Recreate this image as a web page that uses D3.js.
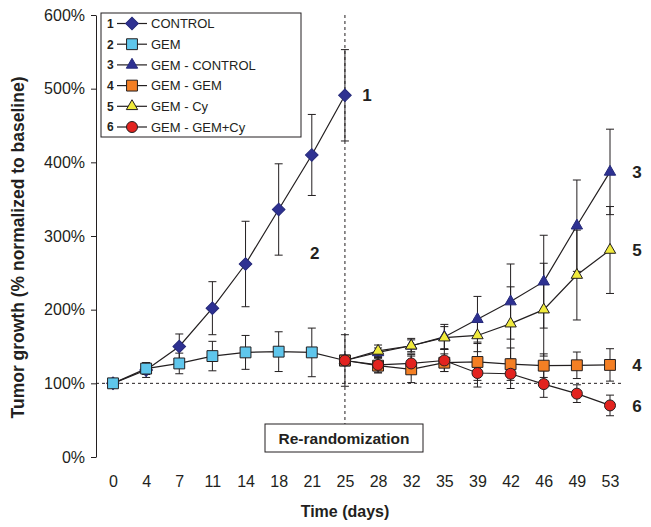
<!DOCTYPE html>
<html>
<head>
<meta charset="utf-8">
<script src="https://cdn.jsdelivr.net/npm/d3@7"></script>
<style>
    body { margin: 0; background: #fff; }
    svg { display: block; font-family: Arial, "Liberation Sans", sans-serif; }
</style>
</head>
<body>
<svg id="chart" width="651" height="527"></svg>
<script>
/*jslint browser: true */

var days = [0, 4, 7, 11, 14, 18, 21, 25, 28, 32, 35, 39, 42, 46, 49, 53];
var yTicks = [0, 100, 200, 300, 400, 500, 600];

// first phase, days 0..25
var control = [100, 118, 150, 202, 262, 336, 410, 491];
var controlErr = [0, 10, 17, 36, 58, 62, 55, 62];
var gem = [100, 120, 127, 137, 142, 143, 142, 131];
var gemErr = [0, 8, 14, 20, 23, 27, 33, 35];

// after re-randomization, days 25..53
var gemControl = [131, 142, 151, 163, 187, 211, 238, 314, 387];
var gemControlErr = [0, 6, 8, 17, 31, 51, 63, 62, 58];
var gemGem = [131, 124, 119, 128, 129, 126, 124, 124.5, 125];
var gemGemErr = [0, 10, 18, 12, 25, 22, 16, 18, 22];
var gemCy = [131, 144, 151, 162, 165, 181, 200, 247, 281];
var gemCyErr = [0, 8, 10, 15, 22, 50, 63, 61, 59];
var gemGemCy = [131, 125, 127, 131, 114, 113, 99, 86, 70];
var gemGemCyErr = [0, 10, 12, 15, 19, 20, 18, 12, 14];

var seriesNames = ["CONTROL", "GEM", "GEM - CONTROL", "GEM - GEM", "GEM - Cy", "GEM - GEM+Cy"];

(function (d3) {
    "use strict";

    var svg = d3.select("#chart"),
        ink = "#231f20",
        x = d3.scalePoint().domain(days).range([113, 610]),
        y = d3.scaleLinear().domain([0, 600]).range([457, 15]),
        early = days.slice(0, 8),
        late = days.slice(7),
        series,
        line,
        marks,
        legend;

    function zip(xs, vs, es) {
        return xs.map(function (d, i) {
            return {day: d, v: vs[i], e: es[i]};
        });
    }

    series = [
        {num: 1, pts: zip(early, control, controlErr), shape: "diamond", fill: "#2e3192", labelDx: 22},
        {num: 2, pts: zip(early, gem, gemErr), shape: "square", fill: "#5fc6ec"},
        {num: 3, pts: zip(late, gemControl, gemControlErr), shape: "triangle", fill: "#2e3192", labelDx: 27},
        {num: 4, pts: zip(late, gemGem, gemGemErr), shape: "square", fill: "#f47f24", labelDx: 27},
        {num: 5, pts: zip(late, gemCy, gemCyErr), shape: "triangle", fill: "#f0ea3c", labelDx: 27},
        {num: 6, pts: zip(late, gemGemCy, gemGemCyErr), shape: "circle", fill: "#e2231f", labelDx: 27}
    ];

    function symbolPath(shape) {
        if (shape === "diamond") {
            return d3.symbol(d3.symbolSquare, 80)();
        }
        if (shape === "square") {
            return d3.symbol(d3.symbolSquare, 118)();
        }
        if (shape === "triangle") {
            return d3.symbol(d3.symbolTriangle, 56)();
        }
        return d3.symbol(d3.symbolCircle, 95)();
    }

    function drawMark(sel, s) {
        sel.append("path")
            .attr("d", symbolPath(s.shape))
            .attr("transform", function () {
                return s.shape === "diamond" ? "rotate(45)" : null;
            })
            .attr("fill", s.fill)
            .attr("stroke", s.shape === "diamond" || s.shape === "triangle" && s.num === 3 ? "#262a7a" : ink)
            .attr("stroke-width", 1);
    }

    // baseline and re-randomization guides
    svg.append("line")
        .attr("x1", 96).attr("x2", 623)
        .attr("y1", y(100)).attr("y2", y(100))
        .attr("stroke", ink).attr("stroke-dasharray", "3,3");

    svg.append("line")
        .attr("x1", x(25)).attr("x2", x(25))
        .attr("y1", y(600)).attr("y2", 424)
        .attr("stroke", ink).attr("stroke-dasharray", "3,3");

    // y axis
    svg.append("g")
        .attr("transform", "translate(96,0)")
        .call(d3.axisLeft(y).tickValues(yTicks).tickSize(5).tickSizeOuter(0).tickPadding(6)
            .tickFormat(function (d) { return d + "%"; }))
        .call(function (g) {
            g.selectAll("text").attr("font-size", 16).attr("fill", ink).attr("font-family", null);
            g.selectAll("line,path").attr("stroke", ink);
        });

    // x labels only, no axis line
    svg.append("g")
        .attr("transform", "translate(0,457)")
        .call(d3.axisBottom(x).tickSize(0).tickPadding(19))
        .call(function (g) {
            g.select(".domain").remove();
            g.selectAll("text").attr("font-size", 16).attr("fill", ink).attr("font-family", null);
        });

    svg.append("text")
        .attr("x", 345).attr("y", 517)
        .attr("text-anchor", "middle")
        .attr("font-size", 16).attr("font-weight", "bold").attr("fill", ink)
        .text("Time (days)");

    svg.append("text")
        .attr("transform", "translate(24,247.5) rotate(-90)")
        .attr("text-anchor", "middle")
        .attr("font-size", 17.5).attr("font-weight", "bold").attr("fill", ink)
        .text("Tumor growth (% normalized to baseline)");

    // re-randomization box
    svg.append("rect")
        .attr("x", 265).attr("y", 424).attr("width", 158).attr("height", 28)
        .attr("fill", "#fff").attr("stroke", ink);
    svg.append("text")
        .attr("x", 344).attr("y", 443.5)
        .attr("text-anchor", "middle")
        .attr("font-size", 15.5).attr("font-weight", "bold").attr("fill", ink)
        .text("Re-randomization");

    // error bars
    series.forEach(function (s) {
        var g = svg.append("g").attr("stroke", ink).attr("stroke-width", 1);
        s.pts.filter(function (p) { return p.e > 0; }).forEach(function (p) {
            var cx = x(p.day);
            g.append("line").attr("x1", cx).attr("x2", cx).attr("y1", y(p.v + p.e)).attr("y2", y(p.v - p.e));
            g.append("line").attr("x1", cx - 4).attr("x2", cx + 4).attr("y1", y(p.v + p.e)).attr("y2", y(p.v + p.e));
            g.append("line").attr("x1", cx - 4).attr("x2", cx + 4).attr("y1", y(p.v - p.e)).attr("y2", y(p.v - p.e));
        });
    });

    // connecting lines
    line = d3.line()
        .x(function (p) { return x(p.day); })
        .y(function (p) { return y(p.v); });

    series.forEach(function (s) {
        svg.append("path")
            .attr("d", line(s.pts))
            .attr("fill", "none")
            .attr("stroke", ink)
            .attr("stroke-width", 1.2);
    });

    // markers
    series.forEach(function (s) {
        marks = svg.append("g").selectAll("g")
            .data(s.pts)
            .join("g")
            .attr("transform", function (p) { return "translate(" + x(p.day) + "," + y(p.v) + ")"; });
        marks.each(function () { drawMark(d3.select(this), s); });
    });

    // curve numbers
    series.forEach(function (s) {
        var last = s.pts[s.pts.length - 1],
            lx = x(last.day) + (s.labelDx || 0),
            ly = y(last.v);
        if (s.num === 2) {
            lx = x(21) + 3;
            ly = y(gem[6] + 135);
        }
        svg.append("text")
            .attr("x", lx).attr("y", ly)
            .attr("dy", "0.36em")
            .attr("text-anchor", "middle")
            .attr("font-size", 17).attr("font-weight", "bold").attr("fill", ink)
            .text(s.num);
    });

    // legend
    legend = svg.append("g").attr("transform", "translate(101,13)");
    legend.append("rect")
        .attr("width", 200).attr("height", 124)
        .attr("fill", "#fff").attr("stroke", ink);

    series.forEach(function (s, i) {
        var row = legend.append("g").attr("transform", "translate(0," + (10.5 + i * 20.7) + ")");
        row.append("text")
            .attr("x", 6).attr("dy", "0.36em")
            .attr("font-size", 12).attr("font-weight", "bold").attr("fill", ink)
            .text(s.num);
        row.append("line")
            .attr("x1", 16).attr("x2", 46)
            .attr("stroke", ink).attr("stroke-width", 1.2);
        drawMark(row.append("g").attr("transform", "translate(31,0)"), s);
        row.append("text")
            .attr("x", 50).attr("dy", "0.36em")
            .attr("font-size", 13).attr("fill", ink)
            .text(seriesNames[i]);
    });

}(window.d3));
</script>
</body>
</html>
